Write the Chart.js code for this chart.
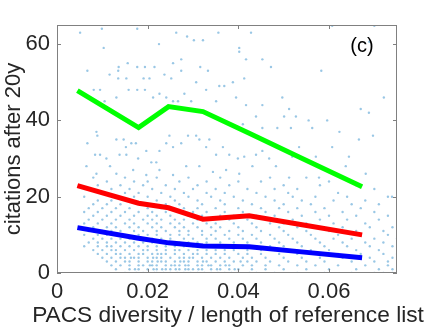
<!DOCTYPE html>
<html>
<head>
<meta charset="utf-8">
<script src="https://cdn.jsdelivr.net/npm/chart.js@4.4.0/dist/chart.umd.min.js"></script>
<style>
  body { margin: 0; background: #fff; }
  #wrap { width: 440px; height: 330px; position: relative; }
</style>
</head>
<body>
<div id="wrap"><canvas id="divChart"></canvas></div>
<script>
// binned curves
const binDiversity = [0.0045, 0.018, 0.0246, 0.0322, 0.0424, 0.0534, 0.0673];
const topQuantile = [47.8, 38.1, 43.6, 42.3, 36.6, 30.4, 22.6];
const meanCites = [22.9, 18.3, 17.1, 14.1, 15.0, 12.8, 10.0];
const medianCites = [11.9, 9.1, 7.9, 7.1, 6.9, 5.6, 4.0];

const xTicks = [0, 0.02, 0.04, 0.06];
const yTicks = [0, 20, 40, 60];
const xTitle = 'PACS diversity / length of reference list';

// individual papers, high citation counts [diversity, citations]
const sparsePapers = [
  [0.0051,63],[0.0099,64],[0.0177,64],[0.0263,63],[0.0287,62],[0.0356,63],[0.0428,63],
  [0.0302,61],[0.0322,61],[0.0402,59],[0.0402,58],[0.0103,59],[0.0225,60],[0.0136,54],
  [0.0156,55],[0.0067,53],[0.0135,53],[0.0177,54],[0.0194,54],[0.0215,54],[0.0237,52],
  [0.0256,55],[0.0274,56],[0.0316,54],[0.0333,53],[0.0417,56],[0.0453,56],[0.0472,54],
  [0.0583,53],[0.0607,64.8],[0.070,64.8],[0.0689,60.6],[0.0413,51],[0.0388,50],[0.0369,49],
  [0.0358,49],[0.0307,50],[0.0274,53],[0.0252,51],[0.0204,51],[0.0191,51],[0.0153,51],
  [0.0135,51],[0.0116,52],[0.0095,48],[0.0081,48],[0.0105,45],[0.0131,46],[0.0158,48],
  [0.0177,48],[0.0194,48],[0.0212,46],[0.0226,47],[0.0241,46],[0.0256,45],[0.0267,45],
  [0.0281,47],[0.0296,45],[0.0329,48],[0.0351,45],[0.0395,46],[0.0417,44],[0.0453,44],
  [0.0497,46],[0.0512,43],[0.0527,41],[0.0501,41],[0.0516,38],[0.0486,38],[0.0453,38],
  [0.0439,41],[0.0410,39],[0.0555,40],[0.0563,38],[0.0596,40],[0.0623,37],[0.0670,43],
  [0.0688,42],[0.0721,46],[0.0697,36],[0.0666,35],
  [0.0087,37],[0.0089,36],[0.0067,34],[0.0084,31],[0.0095,31],[0.0109,30],[0.0131,35],
  [0.0147,35],[0.0152,33],[0.0164,34],[0.0174,34],[0.0138,31],[0.0153,31],[0.0179,30],
  [0.0197,32],[0.0208,29],[0.0219,29],[0.0226,32],[0.0241,34],[0.0248,36],[0.0256,33],
  [0.0274,34],[0.0289,36],[0.0307,36],[0.0314,35],[0.0329,33],[0.0336,35],[0.0351,31],
  [0.0366,33],[0.0380,31],[0.0399,30],[0.0413,30.5],[0.0439,31],[0.0453,32],[0.0468,30],
  [0.0483,28],[0.0431,28],[0.0402,26],[0.0373,27],[0.0344,26.5],[0.0314,28],[0.0285,28],
  [0.0256,25.7],[0.0226,27],[0.0197,25.7],[0.0168,27],[0.0131,26],[0.0117,28],[0.0087,26],
  [0.0065,28],[0.0519,30.5],[0.0534,33],[0.0571,30.5],[0.0607,33],[0.0644,30.5],[0.0637,28],
  [0.0578,25],[0.0512,25],[0.0681,26],[0.0739,20]
];

// lower citation counts: diversity of papers per integer citation count (index = citations)
const rowDiversity = [
  [.015,.0175,.019,.0215,.022,.0235,.025,.0265,.028,.0295,.031,.0325,.034,.0355,.037,.0385,.040,.0425,.044,.048,.053,.059,.065,.070,.072,.074],
  [.013,.016,.0172,.018,.020,.0213,.022,.0232,.024,.025,.0262,.027,.0283,.029,.030,.0312,.032,.034,.0353,.036,.038,.0392,.040,.043,.046,.050,.055,.060,.066,.071,.074],
  [.012,.014,.016,.018,.019,.0205,.021,.022,.024,.0252,.026,.027,.0283,.029,.031,.032,.0334,.034,.036,.0372,.038,.041,.043,.046,.049,.053,.057,.062,.068,.073],
  [.011,.013,.015,.016,.018,.020,.021,.0222,.023,.024,.026,.0272,.028,.029,.031,.0322,.033,.035,.037,.039,.0405,.042,.044,.047,.051,.055,.059,.065,.070,.073],
  [.010,.012,.014,.015,.0163,.017,.018,.020,.0212,.022,.023,.025,.027,.028,.0292,.030,.032,.034,.036,.038,.041,.043,.046,.050,.054,.058,.063,.069,.074],
  [.009,.011,.013,.014,.016,.018,.019,.021,.0222,.023,.024,.026,.028,.030,.031,.033,.035,.037,.040,.042,.045,.049,.053,.057,.062,.067,.072,.075],
  [.008,.010,.012,.013,.015,.017,.019,.020,.022,.024,.026,.027,.029,.031,.033,.035,.037,.039,.042,.045,.048,.052,.056,.060,.066,.071],
  [.006,.009,.011,.012,.014,.016,.018,.020,.022,.024,.026,.028,.030,.032,.034,.036,.038,.041,.044,.047,.050,.054,.059,.064,.069,.074],
  [.007,.009,.011,.013,.015,.017,.019,.021,.023,.025,.027,.029,.031,.033,.036,.039,.042,.045,.049,.053,.058,.063,.068,.072],
  [.008,.010,.012,.014,.016,.019,.021,.023,.025,.028,.030,.033,.035,.038,.041,.044,.048,.052,.057,.061,.065,.070,.075],
  [.006,.009,.011,.013,.015,.018,.020,.022,.025,.027,.029,.032,.034,.037,.040,.043,.047,.051,.056,.062,.067,.073],
  [.007,.010,.012,.014,.017,.019,.022,.024,.027,.029,.032,.035,.038,.041,.045,.050,.055,.060,.066,.072],
  [.008,.011,.013,.016,.018,.021,.023,.026,.028,.031,.034,.036,.040,.044,.049,.053,.058,.063,.069,.074],
  [.006,.009,.012,.015,.017,.020,.022,.025,.027,.030,.033,.035,.039,.043,.047,.050,.055,.061,.068],
  [.007,.010,.013,.016,.019,.021,.023,.026,.028,.031,.034,.038,.042,.047,.052,.058,.064,.071],
  [.008,.011,.014,.017,.020,.022,.025,.029,.032,.036,.039,.044,.048,.054,.060,.066,.073],
  [.006,.009,.012,.015,.018,.021,.024,.027,.030,.033,.037,.041,.046,.051,.057,.063,.070],
  [.007,.010,.013,.016,.020,.023,.028,.031,.035,.040,.045,.049,.053,.059,.067],
  [.008,.011,.014,.019,.024,.027,.032,.037,.043,.050,.056,.065,.071],
  [.009,.012,.016,.022,.026,.031,.036,.041,.048,.054,.061,.068],
  [.006,.013,.017,.020,.025,.029,.034,.039,.046,.052,.057,.064,.073],
  [.010,.015,.018,.023,.028,.033,.037,.044,.051,.062],
  [.007,.012,.016,.021,.026,.030,.035,.042,.048,.053,.070],
  [.009,.014,.019,.024,.031,.038,.050,.058,.066],
  [.011,.017,.020,.027,.033,.040,.045,.060],
  [.008,.015,.022,.029,.036,.047,.055]
];

const papers = sparsePapers.map(p => ({ x: p[0], y: p[1] }));
rowDiversity.forEach((row, cites) => {
  row.forEach(d => papers.push({ x: d, y: cites }));
});

const FONT = "'Liberation Sans', Arial, Helvetica, sans-serif";
const INK = '#262626';
const SIZE = 22;

// box + inward ticks on all sides, x title and the panel tag
const boxPlugin = {
  id: 'box',
  afterDraw(chart) {
    const { ctx, chartArea: a, scales } = chart;
    ctx.save();
    ctx.strokeStyle = '#808080';
    ctx.lineWidth = 1;
    ctx.strokeRect(a.left + 0.5, a.top + 0.5, a.right - a.left - 1, a.bottom - a.top - 1);
    ctx.beginPath();
    xTicks.forEach(v => {
      const px = Math.round(scales.x.getPixelForValue(v)) + 0.5;
      ctx.moveTo(px, a.bottom); ctx.lineTo(px, a.bottom - 4);
      ctx.moveTo(px, a.top); ctx.lineTo(px, a.top + 4);
    });
    yTicks.forEach(v => {
      const py = Math.round(scales.y.getPixelForValue(v)) + 0.5;
      ctx.moveTo(a.left, py); ctx.lineTo(a.left + 4, py);
      ctx.moveTo(a.right, py); ctx.lineTo(a.right - 4, py);
    });
    ctx.stroke();

    ctx.textAlign = 'center';
    ctx.textBaseline = 'middle';
    ctx.fillStyle = INK;
    ctx.font = '22.7px ' + FONT;
    ctx.fillText(xTitle, 228, 316);

    ctx.fillStyle = '#000';
    ctx.font = '20px ' + FONT;
    ctx.fillText('(c)', 362, 46);
    ctx.restore();
  }
};

const lineStyle = (data, color) => ({
  type: 'line',
  data: binDiversity.map((d, i) => ({ x: d, y: data[i] })),
  borderColor: color,
  borderWidth: 5,
  pointRadius: 0,
  tension: 0,
  fill: false,
  order: 0
});

new Chart(document.getElementById('divChart'), {
  type: 'scatter',
  data: {
    datasets: [
      lineStyle(topQuantile, '#00ff00'),
      lineStyle(meanCites, '#ff0000'),
      lineStyle(medianCites, '#0000ff'),
      {
        type: 'scatter',
        data: papers,
        pointRadius: 1.2,
        pointBorderWidth: 0,
        backgroundColor: 'rgba(0,114,189,0.4)',
        order: 1
      }
    ]
  },
  options: {
    responsive: true,
    maintainAspectRatio: false,
    animation: false,
    layout: { padding: { top: 25, right: 43, left: 0, bottom: 0 } },
    plugins: { legend: { display: false }, tooltip: { enabled: false } },
    scales: {
      x: {
        type: 'linear',
        min: 0,
        max: 0.075,
        grid: { display: false, drawTicks: false },
        border: { display: false },
        afterBuildTicks: s => { s.ticks = xTicks.map(v => ({ value: v })); },
        afterFit: s => { s.height = 57; },
        ticks: {
          padding: 6,
          color: INK,
          font: { family: FONT, size: SIZE },
          maxRotation: 0,
          callback: v => v === 0 ? '0' : v.toFixed(2)
        },
        title: { display: false }
      },
      y: {
        min: 0,
        max: 65,
        grid: { display: false, drawTicks: false },
        border: { display: false },
        afterBuildTicks: s => { s.ticks = yTicks.map(v => ({ value: v })); },
        afterFit: s => { s.width = 57; },
        ticks: {
          padding: 7,
          color: INK,
          font: { family: FONT, size: SIZE }
        },
        title: {
          display: true,
          text: 'citations after 20y',
          color: INK,
          font: { family: FONT, size: SIZE },
          padding: { top: 1, bottom: 0 }
        }
      }
    }
  },
  plugins: [boxPlugin]
});
</script>
</body>
</html>
